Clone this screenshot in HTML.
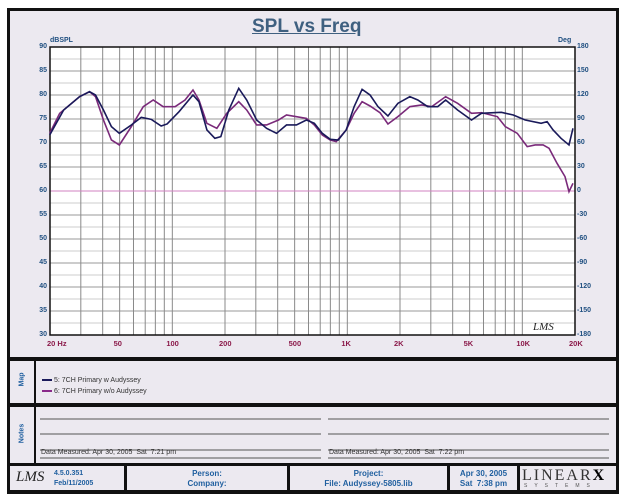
<!DOCTYPE html>
<html><head><meta charset="utf-8"><style>
body{margin:0;width:624px;height:499px;background:#fff;font-family:"Liberation Sans",sans-serif;position:relative;overflow:hidden}
.box{position:absolute;background:#ECE9F0;}
.lbl{position:absolute;font-size:7px;font-weight:bold;color:#1F4F80}
.xl{position:absolute;font-size:7.5px;font-weight:bold;color:#8B1A4A;top:339px}
.side{position:absolute;font-size:7px;font-weight:bold;color:#1F5F9F;transform:rotate(-90deg);transform-origin:center}
.ft{position:absolute;font-size:8px;font-weight:bold;color:#1F5F9F;text-align:center;line-height:10px}
</style></head><body>
<div style="position:absolute;left:7px;top:8px;width:612px;height:486px;background:#111"></div>
<div class="box" style="left:10px;top:11px;width:606px;height:346px"></div>
<div class="box" style="left:10px;top:361px;width:24px;height:42px"></div>
<div class="box" style="left:36px;top:361px;width:580px;height:42px"></div>
<div class="box" style="left:10px;top:407px;width:24px;height:56px"></div>
<div class="box" style="left:36px;top:407px;width:580px;height:56px"></div>
<div class="box" style="left:10px;top:466px;width:114px;height:24px"></div>
<div class="box" style="left:127px;top:466px;width:160px;height:24px"></div>
<div class="box" style="left:290px;top:466px;width:157px;height:24px"></div>
<div class="box" style="left:450px;top:466px;width:67px;height:24px"></div>
<div class="box" style="left:520px;top:466px;width:96px;height:24px"></div>
<div style="position:absolute;left:252px;top:16px;font-size:19px;font-weight:bold;color:#3F6080;text-decoration:underline">SPL vs Freq</div>
<div class="lbl" style="left:50px;top:37px">dBSPL</div>
<div class="lbl" style="left:558px;top:37px">Deg</div>
<svg style="position:absolute;left:0;top:0" width="624" height="499">
<g id="g"></g>
<rect x="50" y="47" width="525" height="288" fill="none" stroke="#111" stroke-width="1.5"/>
<g transform="scale(0.3979,0.3333)" fill="none" stroke-width="1.6">
<path vector-effect="non-scaling-stroke" stroke="#7A2A7A" d="M125,400 L150,340 200,290 225,275 240,290 260,360 280,420 300,435 330,380 360,320 385,300 410,320 440,320 465,300 485,270 500,300 520,370 545,385 570,340 600,305 620,330 645,375 670,375 700,360 720,345 745,350 770,355 790,375 810,405 830,420 845,425 870,390 890,340 910,305 930,318 955,338 975,372 1000,350 1030,320 1060,315 1085,320 1120,290 1150,310 1185,340 1210,338 1250,350 1270,380 1300,400 1325,440 1345,435 1365,435 1380,445 1400,490 1420,530 1430,575 1440,550"/>
<path vector-effect="non-scaling-stroke" stroke="#1A1A5A" d="M125,405 L160,330 200,290 225,275 240,285 260,330 280,380 300,400 330,375 355,352 380,358 405,378 420,372 450,335 485,285 500,305 520,390 540,415 555,410 575,330 600,265 620,300 645,360 670,385 695,400 720,375 745,375 770,360 790,370 810,400 830,418 850,420 870,390 890,320 910,268 930,285 950,320 975,348 1000,310 1030,290 1050,300 1075,320 1100,320 1120,300 1150,330 1185,360 1210,340 1240,338 1260,337 1290,345 1320,360 1360,370 1375,365 1390,390 1410,415 1430,435 1440,385"/>
</g>
<text x="533" y="330" font-family="Liberation Serif" font-style="italic" font-size="11" fill="#222">LMS</text>
<g stroke="#555" stroke-width="1"><line x1="42" y1="380" x2="52" y2="380" stroke="#1A1A5A" stroke-width="2"/><line x1="42" y1="391" x2="52" y2="391" stroke="#8A2A8A" stroke-width="2"/>
<line x1="40" y1="419" x2="321" y2="419"/><line x1="328" y1="419" x2="609" y2="419"/>
<line x1="40" y1="434" x2="321" y2="434"/><line x1="328" y1="434" x2="609" y2="434"/>
<line x1="40" y1="450" x2="321" y2="450"/><line x1="328" y1="450" x2="609" y2="450"/>
<line x1="40" y1="458" x2="321" y2="458"/><line x1="328" y1="458" x2="609" y2="458"/></g>
</svg>
<div style="position:absolute;left:54px;top:375px;font-size:7px;color:#333;line-height:11px">5: 7CH Primary w Audyssey<br>6: 7CH Primary w/o Audyssey</div>
<div style="position:absolute;left:41px;top:449px;font-size:7px;color:#333">Data Measured: Apr 30, 2005 &nbsp;Sat &nbsp;7:21 pm</div>
<div style="position:absolute;left:329px;top:449px;font-size:7px;color:#333">Data Measured: Apr 30, 2005 &nbsp;Sat &nbsp;7:22 pm</div>
<div class="side" style="left:10px;top:376px;width:24px;text-align:center">Map</div>
<div class="side" style="left:6px;top:430px;width:32px;text-align:center">Notes</div>
<div style="position:absolute;left:16px;top:469px;font-family:'Liberation Serif';font-style:italic;font-size:15px;color:#222">LMS</div>
<div class="ft" style="left:54px;top:469px;text-align:left;font-size:7px">4.5.0.351<br>Feb/11/2005</div>
<div class="ft" style="left:127px;top:469px;width:160px">Person:<br>Company:</div>
<div class="ft" style="left:290px;top:469px;width:157px">Project:<br>File: Audyssey-5805.lib</div>
<div class="ft" style="left:450px;top:469px;width:67px">Apr 30, 2005<br>Sat &nbsp;7:38 pm</div>
<div style="position:absolute;left:522px;top:467px;font-family:'Liberation Serif';font-size:16px;letter-spacing:2px;color:#333">LINEAR<b style="color:#000">X</b></div>
<div style="position:absolute;left:524px;top:483px;font-size:5px;letter-spacing:7px;color:#555">SYSTEMS</div>
<script>
var g=document.getElementById('g'),s='';
s+='<rect x="50" y="47" width="525" height="288" fill="#fff"/>';
for(var d=30;d<=90;d+=2.5){var y=335-(d-30)*4.8;var maj=(d%5==0);s+='<line x1="50" x2="575" y1="'+y+'" y2="'+y+'" stroke="'+(maj?'#999':'#ccc')+'" stroke-width="1"/>';}
var L=50,D=175;
[10,100,1000,10000].forEach(function(b){for(var m=1;m<10;m++){var f=b*m;if(f<20||f>20000)continue;var x=L+D*Math.log10(f/20);s+='<line y1="47" y2="335" x1="'+x+'" x2="'+x+'" stroke="#8a8a8a" stroke-width="1"/>';}});
s+='<line x1="50" x2="575" y1="191" y2="191" stroke="#D080C0" stroke-width="1"/>';
g.innerHTML=s;
var lab=[90,85,80,75,70,65,60,55,50,45,40,35,30],rl=[180,150,120,90,60,30,0,-30,-60,-90,-120,-150,-180],h='';
for(var i=0;i<13;i++){var y=47+i*24-4;h+='<div class="lbl" style="left:36px;top:'+y+'px;width:11px;text-align:right">'+lab[i]+'</div><div class="lbl" style="left:577px;top:'+y+'px">'+rl[i]+'</div>';}
[['20  Hz',20],['50',50],['100',100],['200',200],['500',500],['1K',1000],['2K',2000],['5K',5000],['10K',10000],['20K',20000]].forEach(function(a){var x=L+D*Math.log10(a[1]/20);h+='<div class="xl" style="left:'+(a[1]==20?x-3:x-6)+'px">'+a[0]+'</div>';});
document.body.insertAdjacentHTML('beforeend',h);
</script>
</body></html>
